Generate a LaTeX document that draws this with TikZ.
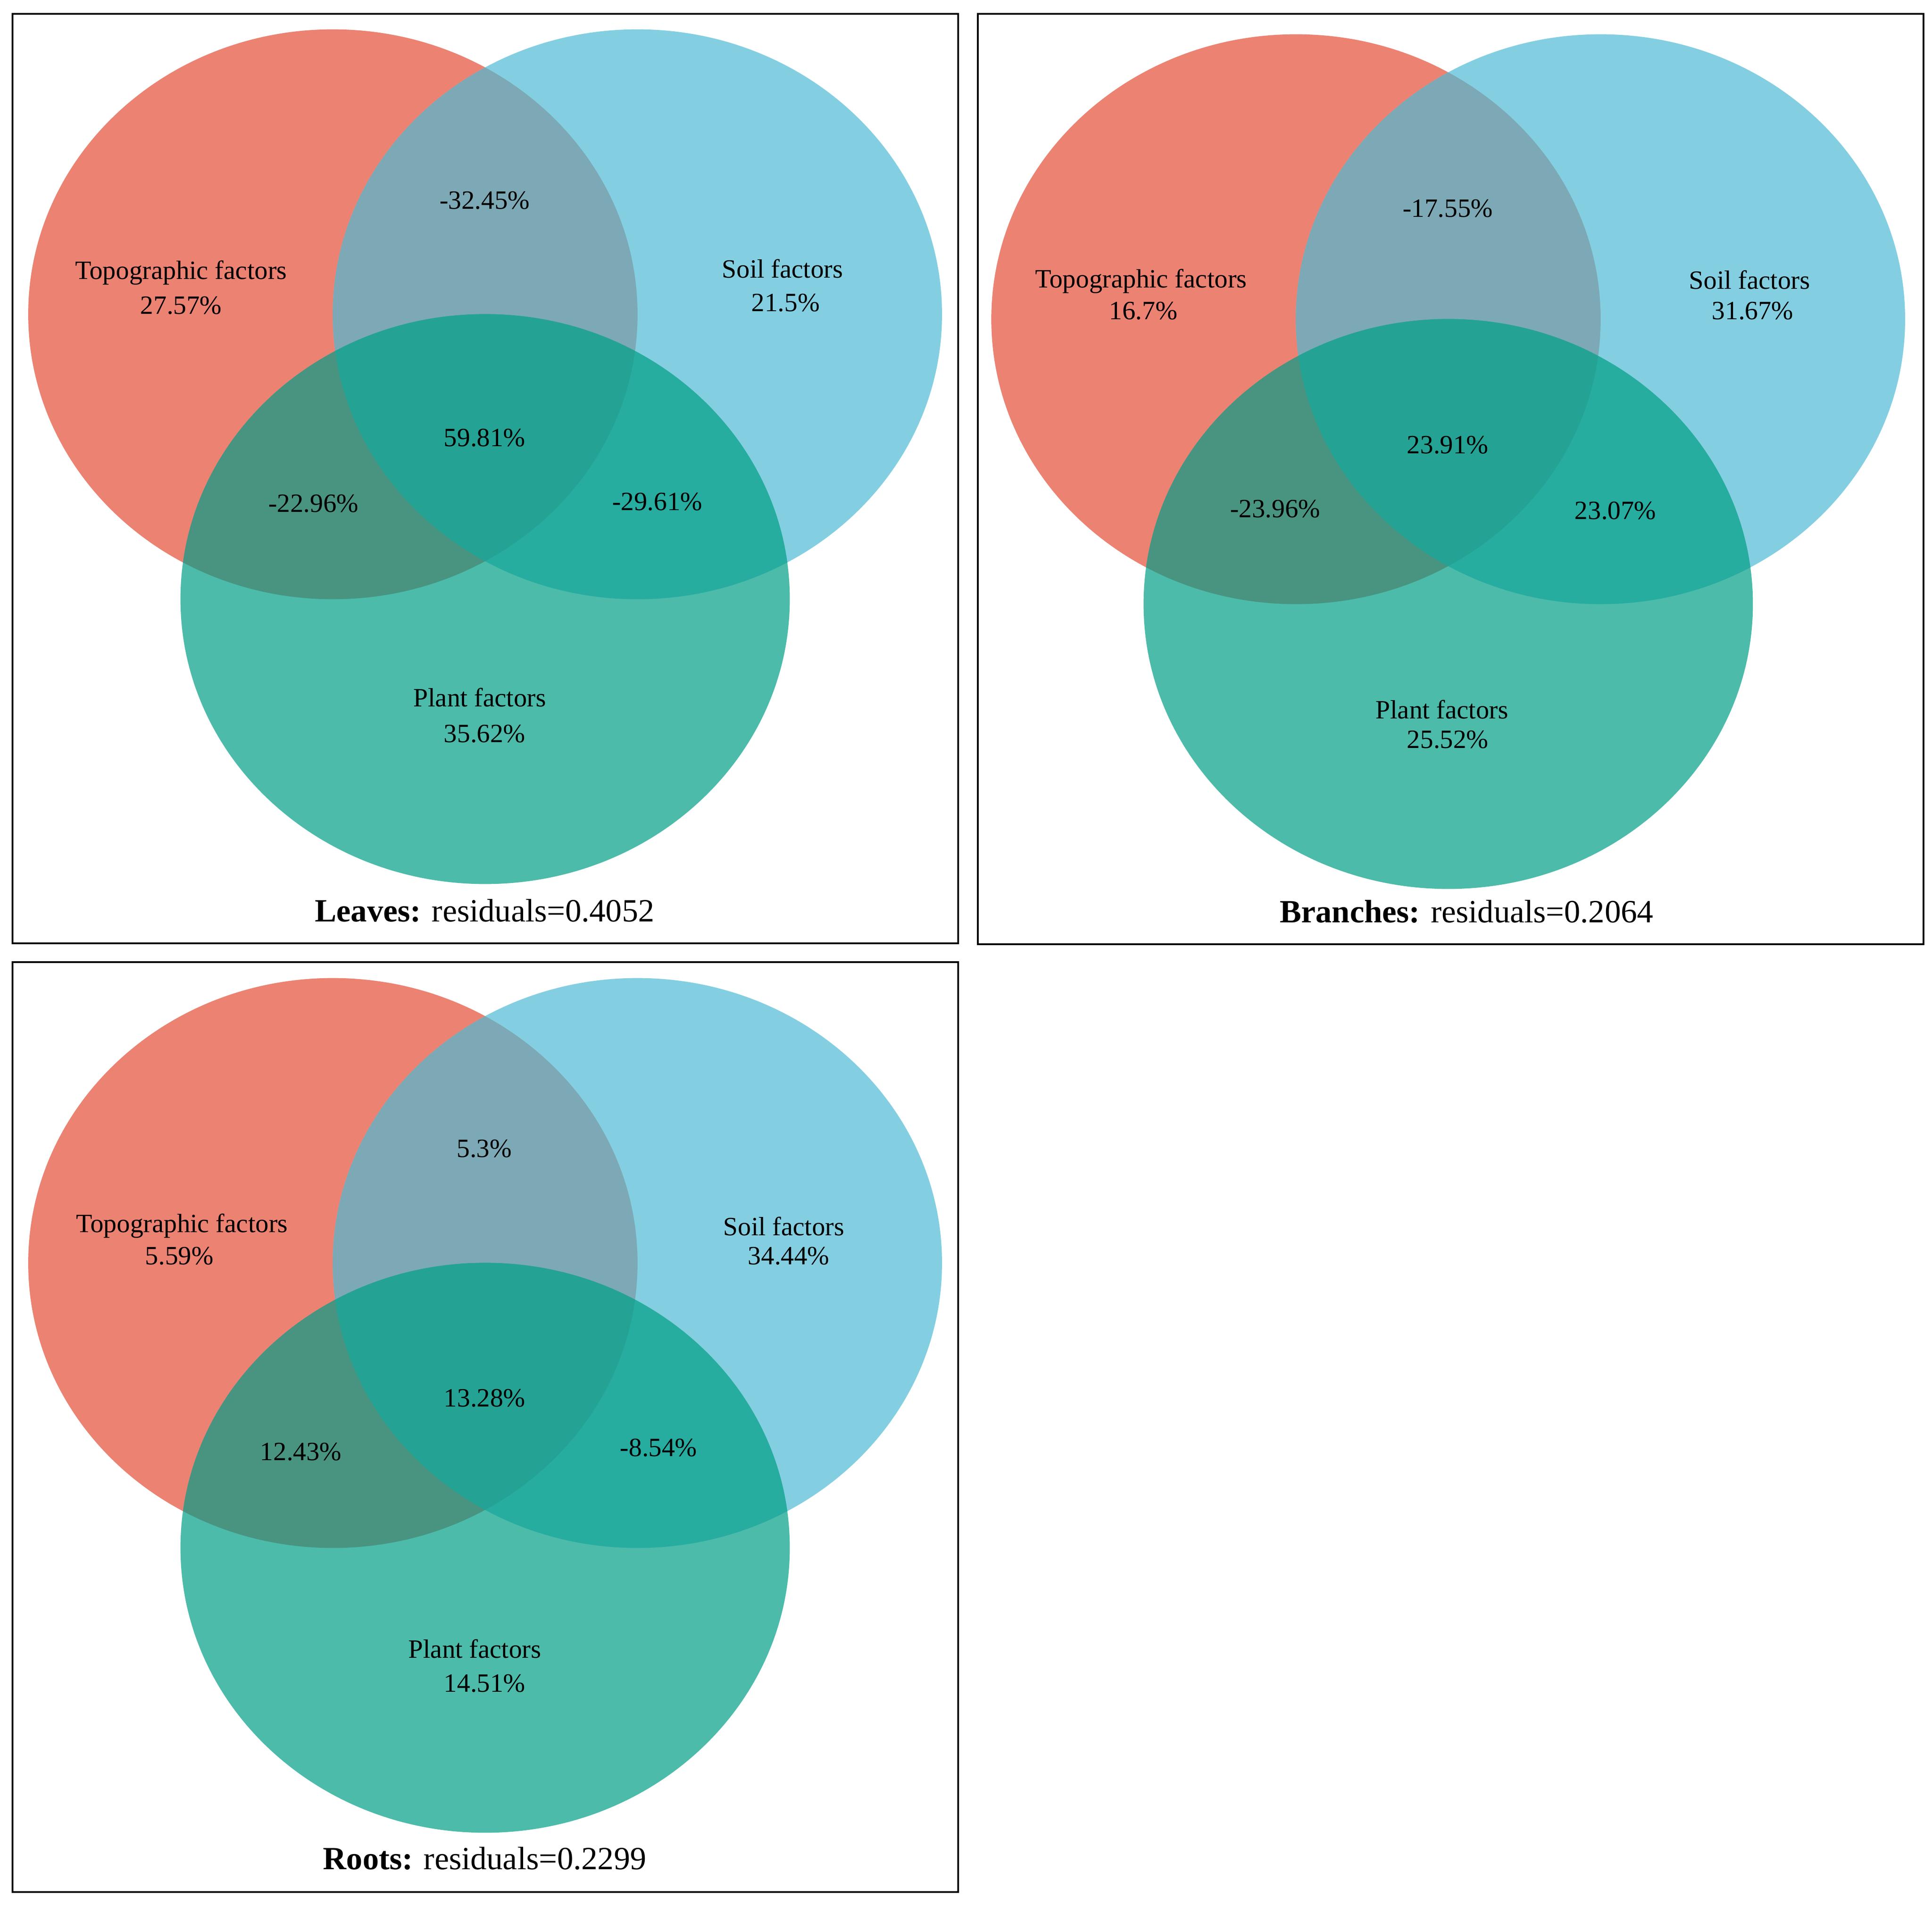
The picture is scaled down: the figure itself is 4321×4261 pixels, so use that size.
\documentclass[tikz,border=0pt]{standalone}
\usepackage{fontspec}
\setmainfont{Liberation Serif}
\definecolor{cred}{RGB}{236,130,114}
\definecolor{cblue}{RGB}{131,207,225}
\definecolor{cgreen}{RGB}{76,187,170}
\definecolor{crb}{RGB}{124,169,181}
\definecolor{crg}{RGB}{72,148,128}
\definecolor{cbg}{RGB}{39,172,160}
\definecolor{crbg}{RGB}{36,163,148}
\tikzset{
  frame/.style={draw=black,line width=1.2pt},
  lab/.style={anchor=base,inner sep=0pt,font=\fontsize{16.8}{20}\selectfont},
  captxt/.style={anchor=base,inner sep=0pt,font=\fontsize{20.6}{24}\selectfont},
  ell/.style={x radius=6.81cm,y radius=6.37cm}
}
\newcommand\vennshapes[2]{%
  \fill[cred] (#1-340.5,#2) ellipse [ell];
  \fill[cblue] (#1+340.5,#2) ellipse [ell];
  \fill[cgreen] (#1,#2+637) ellipse [ell];
  \begin{scope}
    \clip (#1-340.5,#2) ellipse [ell];
    \fill[crb] (#1+340.5,#2) ellipse [ell];
  \end{scope}
  \begin{scope}
    \clip (#1-340.5,#2) ellipse [ell];
    \fill[crg] (#1,#2+637) ellipse [ell];
  \end{scope}
  \begin{scope}
    \clip (#1+340.5,#2) ellipse [ell];
    \fill[cbg] (#1,#2+637) ellipse [ell];
  \end{scope}
  \begin{scope}
    \clip (#1-340.5,#2) ellipse [ell];
    \clip (#1+340.5,#2) ellipse [ell];
    \fill[crbg] (#1,#2+637) ellipse [ell];
  \end{scope}
}
\begin{document}
\begin{tikzpicture}[x=0.01cm,y=-0.01cm]
\useasboundingbox[fill=white] (0,0) rectangle (4321,4261);
% panel 1: Leaves
\vennshapes{1085}{703}
\draw[frame] (28,31) rectangle (2143,2110);
\node[lab] (a1) at (405,625) {Topographic factors};
\node[lab] (a2) at (405,703) {27.57\%};
\node[lab] (a3) at (1750,622) {Soil factors};
\node[lab] (a4) at (1757,696) {21.5\%};
\node[lab] (a5) at (1084,468) {-32.45\%};
\node[lab] (a6) at (1084,998) {59.81\%};
\node[lab] (a7) at (701,1145) {-22.96\%};
\node[lab] (a8) at (1470,1141) {-29.61\%};
\node[lab] (a9) at (1073,1580) {Plant factors};
\node[lab] (a10) at (1084,1660) {35.62\%};
\node[captxt] (acap) at (1084,2061) {\textbf{Leaves:} residuals=0.4052};
% panel 2: Branches
\vennshapes{3239}{714}
\draw[frame] (2187,31) rectangle (4302,2112);
\node[lab] (b1) at (2552,644) {Topographic factors};
\node[lab] (b2) at (2557,715) {16.7\%};
\node[lab] (b3) at (3913,647) {Soil factors};
\node[lab] (b4) at (3920,715) {31.67\%};
\node[lab] (b5) at (3238,486) {-17.55\%};
\node[lab] (b6) at (3238,1014) {23.91\%};
\node[lab] (b7) at (2852,1157) {-23.96\%};
\node[lab] (b8) at (3613,1161) {23.07\%};
\node[lab] (b9) at (3225,1607) {Plant factors};
\node[lab] (b10) at (3238,1673) {25.52\%};
\node[captxt] (bcap) at (3280,2063) {\textbf{Branches:} residuals=0.2064};
% panel 3: Roots
\vennshapes{1085}{2825}
\draw[frame] (28,2152) rectangle (2143,4232);
\node[lab] (c1) at (407,2756) {Topographic factors};
\node[lab] (c2) at (401,2828) {5.59\%};
\node[lab] (c3) at (1753,2763) {Soil factors};
\node[lab] (c4) at (1764,2828) {34.44\%};
\node[lab] (c5) at (1083,2588) {5.3\%};
\node[lab] (c6) at (1084,3146) {13.28\%};
\node[lab] (c7) at (673,3266) {12.43\%};
\node[lab] (c8) at (1473,3257) {-8.54\%};
\node[lab] (c9) at (1062,3708) {Plant factors};
\node[lab] (c10) at (1084,3784) {14.51\%};
\node[captxt] (ccap) at (1084,4181) {\textbf{Roots:} residuals=0.2299};
\end{tikzpicture}
\end{document}
